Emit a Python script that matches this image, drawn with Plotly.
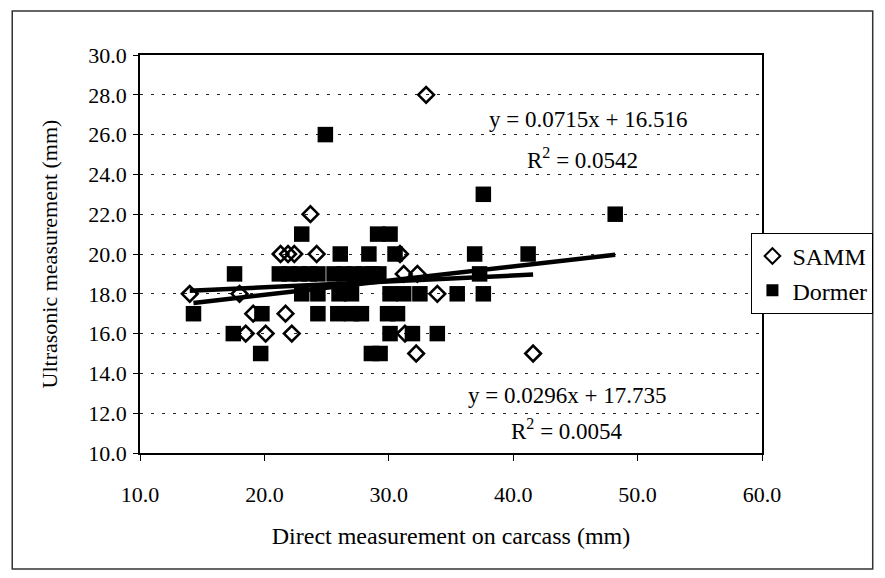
import plotly.graph_objects as go

# Carcass fat depth: direct measurement vs ultrasonic measurement (mm)
samm_x = [14.0, 18.0, 19.1, 21.7, 18.5, 20.1, 22.2, 21.3, 21.9, 22.4,
          24.2, 23.7, 33.0, 30.9, 31.2, 32.3, 33.9, 31.3, 32.2, 41.6]
samm_y = [18, 18, 17, 17, 16, 16, 16, 20, 20, 20,
          20, 22, 28, 20, 19, 19, 18, 16, 15, 15]

dormer_x = [24.9,
            37.6,
            48.2,
            23.0, 29.1, 30.1,
            26.1, 28.4, 30.5, 36.9, 41.2,
            17.6, 21.2, 22.0, 22.8, 23.6, 24.3, 25.6, 26.4, 27.2, 28.0, 28.7, 29.2, 37.3,
            23.0, 24.3, 26.0, 27.0, 30.1, 31.2, 32.5, 35.5, 37.6,
            14.3, 19.8, 24.3, 25.9, 27.0, 27.8, 29.9, 30.7,
            17.5, 30.1, 31.9, 33.9,
            19.7, 28.6, 29.3]
dormer_y = [26,
            23,
            22,
            21, 21, 21,
            20, 20, 20, 20, 20,
            19, 19, 19, 19, 19, 19, 19, 19, 19, 19, 19, 19, 19,
            18, 18, 18, 18, 18, 18, 18, 18, 18,
            17, 17, 17, 17, 17, 17, 17, 17,
            16, 16, 16, 16,
            15, 15, 15]

# Linear trend coefficients (slope, intercept, R squared)
dormer_fit = (0.0715, 16.516, 0.0542)
samm_fit = (0.0296, 17.735, 0.0054)

x_ticks = [10, 20, 30, 40, 50, 60]
y_ticks = [10, 12, 14, 16, 18, 20, 22, 24, 26, 28, 30]

FONT = "Liberation Serif, Times New Roman, serif"


def trend(xs, fit):
    lo, hi = min(xs), max(xs)
    return [lo, hi], [fit[0] * lo + fit[1], fit[0] * hi + fit[1]]


fig = go.Figure()

fig.add_trace(go.Scatter(
    x=samm_x, y=samm_y, mode="markers", name="SAMM",
    marker=dict(symbol="diamond-open", size=12, color="black",
                line=dict(width=2.6, color="black")),
))
fig.add_trace(go.Scatter(
    x=dormer_x, y=dormer_y, mode="markers", name="Dormer",
    marker=dict(symbol="square", size=15.5, color="black",
                line=dict(width=0)),
))

tx, ty = trend(samm_x, samm_fit)
fig.add_trace(go.Scatter(x=tx, y=ty, mode="lines", showlegend=False,
                         line=dict(color="black", width=4.5)))
tx, ty = trend(dormer_x, dormer_fit)
fig.add_trace(go.Scatter(x=tx, y=ty, mode="lines", showlegend=False,
                         line=dict(color="black", width=4.5)))

eq_font = dict(family=FONT, size=23, color="black")
fig.add_annotation(x=46.0, y=26.75, xref="x", yref="y", showarrow=False,
                   text=f"y = {dormer_fit[0]}x + {dormer_fit[1]}", font=eq_font)
fig.add_annotation(x=45.6, y=24.8, xref="x", yref="y", showarrow=False,
                   text=f"R<sup>2</sup> = {dormer_fit[2]}", font=eq_font)
fig.add_annotation(x=44.3, y=12.9, xref="x", yref="y", showarrow=False,
                   text=f"y = {samm_fit[0]}x + {samm_fit[1]}", font=eq_font)
fig.add_annotation(x=44.3, y=11.2, xref="x", yref="y", showarrow=False,
                   text=f"R<sup>2</sup> = {samm_fit[2]:.4f}", font=eq_font)

# Outer chart frame
fig.add_shape(type="rect", xref="paper", yref="paper",
              x0=-0.2054, x1=1.178, y0=-0.2915, y1=1.1106,
              line=dict(color="#333333", width=1.5), layer="below")

fig.update_layout(
    width=885, height=578,
    margin=dict(l=140, r=117, t=55, b=125),
    paper_bgcolor="white", plot_bgcolor="white",
    font=dict(family=FONT, size=22, color="black"),
    legend=dict(x=0.983, y=0.553, xanchor="left", yanchor="top",
                bgcolor="white", bordercolor="black", borderwidth=1,
                font=dict(family=FONT, size=24, color="black"),
                itemsizing="constant", itemwidth=30),
)

fig.update_xaxes(
    range=[10, 60], tickvals=x_ticks, tickformat=".1f",
    showgrid=False, zeroline=False,
    showline=True, linecolor="black", linewidth=1.5, mirror=True,
    ticks="outside", ticklen=6, tickcolor="black",
    ticklabelstandoff=15,
    tickfont=dict(family=FONT, size=22),
    title=dict(text="Direct measurement on carcass (mm)",
               font=dict(family=FONT, size=24), standoff=21),
)
fig.update_yaxes(
    range=[10, 30], tickvals=y_ticks, tickformat=".1f",
    showgrid=True, gridcolor="#222222", gridwidth=1.2, griddash="3px,8px",
    zeroline=False,
    showline=True, linecolor="black", linewidth=1.5, mirror=True,
    ticks="outside", ticklen=5, tickcolor="black",
    ticklabelstandoff=2,
    tickfont=dict(family=FONT, size=22),
    title=dict(text="Ultrasonic measurement (mm)",
               font=dict(family=FONT, size=22), standoff=25),
)

fig.write_html("out.html")
